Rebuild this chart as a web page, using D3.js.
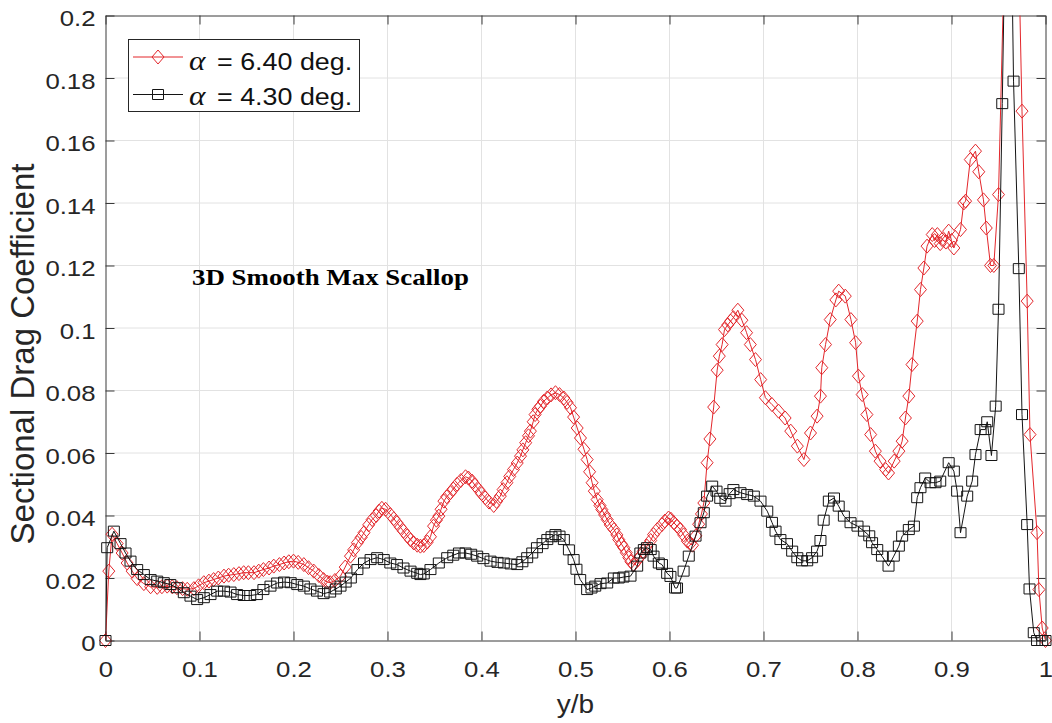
<!DOCTYPE html>
<html>
<head>
<meta charset="utf-8">
<script src="https://cdn.jsdelivr.net/npm/d3@7"></script>
<style>
  body { margin: 0; background: #fff; }
  svg { display: block; }
</style>
</head>
<body>
<svg id="chart" width="1052" height="723"></svg>
<script>
// Axis ticks
const xTicks = [0, 0.1, 0.2, 0.3, 0.4, 0.5, 0.6, 0.7, 0.8, 0.9, 1];
const yTicks = [0, 0.02, 0.04, 0.06, 0.08, 0.1, 0.12, 0.14, 0.16, 0.18, 0.2];
const xTickLabels = ["0", "0.1", "0.2", "0.3", "0.4", "0.5", "0.6", "0.7", "0.8", "0.9", "1"];
const yTickLabels = ["0", "0.02", "0.04", "0.06", "0.08", "0.1", "0.12", "0.14", "0.16", "0.18", "0.2"];

const seriesAlpha = ["6.40", "4.30"];

// Sectional drag coefficient vs. span station y/b, alpha = 6.40 deg.
const cdAlpha640 = [
[0,0],[.0035,.0222],[.007,.034],[.0124,.031],[.0177,.028],[.023,.0248],[.0284,.0222],[.0337,.0198],[.0408,.0182],[.048,.0172],
[.055,.017],[.06,.0172],[.0656,.0174],[.071,.0172],[.076,.0169],[.082,.0166],[.087,.0164],[.094,.0166],[.099,.0175],[.1046,.0185],
[.11,.019],[.115,.0195],[.12,.02],[.126,.0206],[.131,.0209],[.1365,.0211],[.142,.0214],[.147,.0217],[.152,.0217],[.158,.0217],
[.163,.0222],[.168,.0227],[.174,.0232],[.179,.0238],[.185,.0243],[.19,.0248],[.195,.0252],[.2,.0254],[.205,.025],[.211,.0243],
[.216,.0233],[.2216,.0222],[.227,.0208],[.232,.0195],[.236,.0187],[.239,.0185],[.244,.0192],[.25,.0206],[.255,.0235],[.2606,.027],
[.264,.029],[.268,.0313],[.272,.033],[.275,.0345],[.28,.037],[.2837,.0387],[.288,.04],[.291,.0414],[.294,.0423],[.298,.042],
[.303,.0403],[.3067,.039],[.31,.0377],[.3138,.0362],[.317,.035],[.321,.0335],[.3245,.0322],[.328,.0312],[.3316,.0305],[.335,.0302],
[.3386,.0304],[.3423,.0315],[.3457,.0332],[.349,.0366],[.352,.0385],[.3546,.0398],[.357,.042],[.36,.0446],[.363,.046],[.367,.0473],
[.37,.0485],[.374,.05],[.378,.0512],[.383,.0524],[.386,.052],[.39,.051],[.393,.0497],[.397,.0483],[.4,.047],[.404,.0457],
[.408,.0443],[.413,.0432],[.416,.0445],[.42,.0462],[.423,.0483],[.427,.0505],[.43,.0525],[.434,.0547],[.438,.0568],[.4415,.059],
[.444,.061],[.447,.0633],[.45,.0655],[.452,.067],[.455,.07],[.457,.0723],[.46,.074],[.4628,.075],[.466,.0765],[.47,.0776],
[.474,.0786],[.4787,.0793],[.483,.0787],[.4876,.0776],[.491,.0762],[.4947,.0745],[.498,.0715],[.5018,.068],[.5053,.0648],[.509,.0612],
[.5124,.0579],[.515,.054],[.5177,.0505],[.52,.0478],[.523,.0451],[.526,.0432],[.528,.0419],[.531,.0402],[.5337,.0387],[.537,.037],
[.541,.0355],[.544,.0338],[.546,.0323],[.549,.0308],[.5514,.0297],[.554,.0281],[.5567,.0265],[.559,.0252],[.562,.0243],[.566,.0258],
[.569,.027],[.572,.0285],[.576,.0302],[.58,.032],[.583,.0339],[.587,.0355],[.592,.0371],[.595,.0382],[.599,.0392],[.6015,.0388],
[.6046,.0377],[.608,.0366],[.6117,.0355],[.615,.0338],[.619,.0318],[.622,.031],[.6245,.0305],[.628,.0335],[.631,.0372],[.634,.0405],
[.6365,.044],[.64,.0569],[.643,.0645],[.647,.0747],[.6507,.0865],[.653,.091],[.656,.0947],[.6585,.0995],[.662,.101],[.665,.1022],
[.668,.1033],[.6727,.1057],[.677,.1025],[.682,.0985],[.686,.0947],[.6915,.0899],[.697,.0835],[.702,.0777],[.709,.0755],[.716,.0734],
[.723,.0712],[.729,.067],[.736,.0622],[.743,.0579],[.75,.0664],[.757,.0718],[.7606,.0782],[.762,.0873],[.766,.0947],[.771,.1027],
[.777,.109],[.78,.1118],[.787,.1102],[.793,.1027],[.798,.0953],[.801,.0846],[.805,.0787],[.81,.0723],[.814,.0659],[.819,.0606],
[.824,.0574],[.83,.0547],[.833,.0536],[.839,.0574],[.844,.0606],[.8475,.0638],[.851,.0712],[.8546,.0782],[.858,.0883],[.8635,.1022],
[.867,.1123],[.8706,.1192],[.874,.1262],[.8795,.1299],[.882,.128],[.885,.1299],[.888,.127],[.89,.1283],[.894,.1275],[.897,.131],
[.9,.128],[.9025,.1256],[.9096,.1315],[.913,.14],[.915,.1406],[.92,.1539],[.9255,.1566],[.929,.15],[.934,.141],[.937,.132],
[.9415,.12],[.945,.12],[.95,.1427],[.9645,.32],[.975,.1694],[.9805,.1086],[.9835,.0659],[.991,.0345],[.993,.0163],[.9965,.004],
[1,0]
];

// Sectional drag coefficient vs. span station y/b, alpha = 4.30 deg.
const cdAlpha430 = [
[0,0],[.0018,.0297],[.0089,.035],[.016,.031],[.0213,.028],[.0266,.0254],[.0337,.0227],[.0408,.0211],[.048,.0195],[.055,.019],
[.062,.0185],[.069,.0179],[.076,.0169],[.0833,.0153],[.0904,.0142],[.0975,.0131],[.1046,.0137],[.1117,.0147],[.1188,.0158],[.126,.0158],
[.133,.0155],[.14,.0147],[.147,.0144],[.154,.0144],[.161,.0147],[.168,.0163],[.1755,.0174],[.1826,.0184],[.19,.0187],[.197,.0185],
[.204,.0179],[.211,.0174],[.218,.0165],[.225,.0158],[.232,.015],[.239,.0155],[.245,.0165],[.25,.0174],[.2555,.0187],[.261,.02],
[.268,.0227],[.275,.0248],[.282,.0259],[.289,.0265],[.296,.0259],[.303,.0248],[.31,.0243],[.317,.0232],[.3245,.0222],[.3316,.0215],
[.335,.0211],[.3386,.0213],[.3457,.0227],[.3546,.0248],[.3635,.0265],[.37,.0273],[.376,.028],[.383,.028],[.389,.0276],[.3954,.027],
[.402,.0262],[.4096,.0254],[.417,.025],[.4237,.0248],[.431,.0245],[.438,.0243],[.4435,.0252],[.4486,.0265],[.454,.028],[.459,.0297],
[.465,.031],[.47,.0323],[.4745,.0332],[.4787,.0339],[.483,.0334],[.4876,.0323],[.493,.029],[.498,.0259],[.501,.0228],[.505,.0195],
[.5124,.0163],[.517,.0168],[.521,.0174],[.5266,.0182],[.5337,.0184],[.5408,.02],[.546,.02],[.551,.0203],[.5585,.0206],[.5656,.0238],
[.569,.028],[.5727,.0291],[.576,.0297],[.58,.0291],[.583,.027],[.5886,.0248],[.592,.0243],[.5975,.0215],[.601,.0205],[.606,.0168],
[.608,.0168],[.615,.0222],[.6205,.027],[.6277,.0334],[.633,.0377],[.6365,.0409],[.64,.0462],[.6454,.0494],[.65,.0478],[.654,.0455],
[.6596,.0446],[.664,.047],[.668,.0483],[.6755,.0473],[.6826,.0467],[.6897,.0462],[.6968,.0446],[.704,.0414],[.709,.0378],[.7128,.035],
[.718,.0323],[.725,.031],[.7305,.0286],[.736,.0265],[.741,.0255],[.7465,.0255],[.7517,.0265],[.757,.0286],[.7606,.032],[.764,.0385],
[.7695,.0446],[.775,.0456],[.78,.043],[.7855,.0398],[.7926,.0377],[.8,.0366],[.807,.035],[.8125,.0335],[.8155,.0313],[.821,.0291],
[.826,.027],[.833,.0238],[.8386,.027],[.844,.0302],[.8475,.0334],[.8546,.0355],[.86,.0366],[.8635,.0457],[.867,.0489],[.872,.052],
[.8777,.0505],[.883,.0505],[.888,.051],[.897,.0569],[.9025,.0542],[.906,.0478],[.9096,.0345],[.9167,.0462],[.922,.051],[.9255,.0595],
[.931,.0675],[.936,.0675],[.938,.07],[.9425,.0592],[.947,.075],[.95,.106],[.954,.1718],[.9606,.293],[.966,.179],[.9716,.119],
[.975,.0723],[.9805,.0371],[.983,.0165],[.9875,.0025],[.991,0],[.9965,0],[1,0]
];

const W = 1052, H = 723;
const plot = { left: 105.5, right: 1045.5, top: 15.5, bottom: 640.5 };
const TEXT_STRETCH = 1.12;   // horizontal glyph stretch of the exported figure
const SANS = "'Liberation Sans', Arial, Helvetica, sans-serif";
const SERIF = "'Liberation Serif', 'Times New Roman', serif";
const AX_COLOR = "#3a3a3a";
const RED = "#e3262b";
const BLACK = "#141414";

const x = d3.scaleLinear().domain([0, 1]).range([plot.left, plot.right]);
const y = d3.scaleLinear().domain([0, 0.2]).range([plot.bottom, plot.top]);

const svg = d3.select("#chart");
svg.append("rect").attr("width", W).attr("height", H).attr("fill", "#fff");

// grid
const grid = svg.append("g").attr("stroke", "#e2e2e2").attr("stroke-width", 1);
grid.selectAll("line.gx").data(xTicks.slice(1, -1)).join("line")
  .attr("x1", d => x(d)).attr("x2", d => x(d))
  .attr("y1", plot.top).attr("y2", plot.bottom);
grid.selectAll("line.gy").data(yTicks.slice(1, -1)).join("line")
  .attr("x1", plot.left).attr("x2", plot.right)
  .attr("y1", d => y(d)).attr("y2", d => y(d));

// axes (box with inward ticks on all sides)
function styleAxis(g) {
  g.select(".domain").attr("stroke", AX_COLOR);
  g.selectAll(".tick line").attr("stroke", AX_COLOR);
  g.selectAll(".tick text")
    .attr("fill", "#262626")
    .attr("font-family", SANS)
    .attr("font-size", 23);
}

const gx = svg.append("g").attr("transform", `translate(0,${plot.bottom})`)
  .call(d3.axisBottom(x).tickValues(xTicks).tickSizeInner(-9).tickSizeOuter(0)
    .tickFormat((d, i) => xTickLabels[i]))
  .call(styleAxis);
gx.selectAll(".tick text").attr("y", 36.5).attr("dy", 0)
  .attr("transform", `scale(${TEXT_STRETCH},1)`);

const gy = svg.append("g").attr("transform", `translate(${plot.left},0)`)
  .call(d3.axisLeft(y).tickValues(yTicks).tickSizeInner(-9).tickSizeOuter(0)
    .tickFormat((d, i) => yTickLabels[i]))
  .call(styleAxis);
gy.selectAll(".tick text").attr("x", 0).attr("dy", "0.45em")
  .attr("transform", `translate(-10,0) scale(${TEXT_STRETCH},1)`);

svg.append("g").attr("transform", `translate(0,${plot.top})`)
  .call(d3.axisTop(x).tickValues(xTicks).tickSizeInner(-9).tickSizeOuter(0).tickFormat(""))
  .call(styleAxis);
svg.append("g").attr("transform", `translate(${plot.right},0)`)
  .call(d3.axisRight(y).tickValues(yTicks).tickSizeInner(-9).tickSizeOuter(0).tickFormat(""))
  .call(styleAxis);

// clip for lines
svg.append("clipPath").attr("id", "plot-clip").append("rect")
  .attr("x", plot.left).attr("y", plot.top)
  .attr("width", plot.right - plot.left).attr("height", plot.bottom - plot.top);

const diamondPath = "M0,-7L6,0L0,7L-6,0Z";
const squarePath = "M-5.5,-5L5.5,-5L5.5,5L-5.5,5Z";

const lineGen = d3.line().x(d => x(d[0])).y(d => y(d[1]));

function drawSeries(data, color, markerPath) {
  const g = svg.append("g");
  g.append("path").datum(data)
    .attr("clip-path", "url(#plot-clip)")
    .attr("d", lineGen)
    .attr("fill", "none").attr("stroke", color).attr("stroke-width", 1);
  g.selectAll("path.m").data(data.filter(d => d[1] <= 0.2)).join("path")
    .attr("class", "m")
    .attr("d", markerPath)
    .attr("transform", d => `translate(${x(d[0])},${y(d[1])})`)
    .attr("fill", "none").attr("stroke", color).attr("stroke-width", 1);
}

drawSeries(cdAlpha640, RED, diamondPath);
drawSeries(cdAlpha430, BLACK, squarePath);

// legend
const legend = svg.append("g");
legend.append("rect").attr("x", 128.5).attr("y", 39.5).attr("width", 231).attr("height", 72)
  .attr("fill", "#fff").attr("stroke", "#262626").attr("stroke-width", 1);
const legendRows = [
  { color: RED, marker: diamondPath, alpha: seriesAlpha[0], cy: 57, base: 69.5 },
  { color: BLACK, marker: squarePath, alpha: seriesAlpha[1], cy: 94.5, base: 105 }
];
legendRows.forEach(r => {
  legend.append("line").attr("x1", 133).attr("x2", 183).attr("y1", r.cy).attr("y2", r.cy)
    .attr("stroke", r.color).attr("stroke-width", 1);
  legend.append("path").attr("d", r.marker).attr("transform", `translate(158,${r.cy})`)
    .attr("fill", "none").attr("stroke", r.color).attr("stroke-width", 1);
  const t = legend.append("text")
    .attr("transform", `translate(189,${r.base}) scale(${TEXT_STRETCH},1)`)
    .attr("fill", "#111").attr("font-size", 24).attr("font-family", SANS);
  t.append("tspan").attr("font-family", SERIF).attr("font-style", "italic").attr("font-size", 28).text("α");
  t.append("tspan").attr("x", 25).text(`= ${r.alpha} deg.`);
});

// annotation
svg.append("text")
  .attr("transform", `translate(192,285) scale(${TEXT_STRETCH},1)`)
  .attr("font-family", SERIF).attr("font-weight", "bold").attr("font-size", 24)
  .attr("fill", "#000").text("3D Smooth Max Scallop");

// axis titles
svg.append("text")
  .attr("transform", `translate(${(plot.left + plot.right) / 2},713) scale(${TEXT_STRETCH},1)`)
  .attr("text-anchor", "middle").attr("font-family", SANS).attr("font-size", 25)
  .attr("fill", "#262626").text("y/b");

svg.append("text")
  .attr("transform", `translate(34,354) rotate(-90)`)
  .attr("text-anchor", "middle").attr("font-family", SANS).attr("font-size", 33)
  .attr("fill", "#262626").text("Sectional Drag Coefficient");
</script>
</body>
</html>
